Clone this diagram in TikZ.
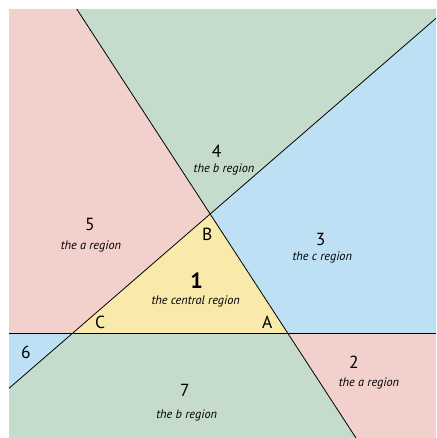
\documentclass[tikz,border=0pt]{standalone}
\usepackage{fontspec}
\setmainfont{PT Sans}

\definecolor{regpink}{RGB}{242,208,203}
\definecolor{reggreen}{RGB}{197,220,204}
\definecolor{regblue}{RGB}{189,224,245}
\definecolor{regyellow}{RGB}{249,233,170}

\begin{document}
\begin{tikzpicture}[x=1pt,y=-1pt,
  regnum/.style={font=\fontsize{17.5}{19}\selectfont},
  regcap/.style={font=\fontsize{12.3}{14}\selectfont\itshape},
  vertex/.style={font=\fontsize{17.5}{19}\selectfont}]

\useasboundingbox (0,0) rectangle (436,438);

% Frame and line ends
\coordinate (TL) at (9,9);
\coordinate (TR) at (436,9);
\coordinate (BR) at (436,438);
\coordinate (BL) at (9,438);
\coordinate (P) at (76.7,9);
\coordinate (Q) at (356,438);
\coordinate (R) at (436,18.3);
\coordinate (S) at (9,388.3);
\coordinate (H1) at (9,333);
\coordinate (H2) at (436,333);

% Triangle corners
\coordinate (B) at (intersection of P--Q and S--R);
\coordinate (A) at (intersection of P--Q and H1--H2);
\coordinate (C) at (intersection of S--R and H1--H2);

% Regions
\fill[regpink] (TL) -- (P) -- (B) -- (C) -- (H1) -- cycle;
\fill[reggreen] (P) -- (TR) -- (R) -- (B) -- cycle;
\fill[regblue] (B) -- (R) -- (H2) -- (A) -- cycle;
\fill[regyellow] (A) -- (B) -- (C) -- cycle;
\fill[regpink] (A) -- (H2) -- (BR) -- (Q) -- cycle;
\fill[reggreen] (C) -- (A) -- (Q) -- (BL) -- (S) -- cycle;
\fill[regblue] (H1) -- (C) -- (S) -- cycle;

% The three lines
\draw[line width=0.8pt] (P) -- (Q);
\draw[line width=0.8pt] (S) -- (R);
\draw[line width=0.8pt] (H1) -- (H2);

% Corner letters
\node[vertex] (labA) at (267.3,322.3) {A};
\node[vertex] (labB) at (207.3,234.3) {B};
\node[vertex] (labC) at (100,322.3) {C};

% Region labels
\node[regnum,font=\fontsize{22}{24}\selectfont\bfseries] (num1) at (196.7,281) {1};
\node[regcap] (cap1) at (195.7,301) {the central region};

\node[regnum] (num2) at (354,362.7) {2};
\node[regcap] (cap2) at (369,383) {the a region};

\node[regnum] (num3) at (320.7,239) {3};
\node[regcap] (cap3) at (322.3,257) {the c region};

\node[regnum] (num4) at (216.7,151.7) {4};
\node[regcap] (cap4) at (224,169) {the b region};

\node[regnum] (num5) at (90,224) {5};
\node[regcap] (cap5) at (91,246) {the a region};

\node[regnum] (num6) at (26,352.3) {6};

\node[regnum] (num7) at (185,390.7) {7};
\node[regcap] (cap7) at (186.7,415) {the b region};

\end{tikzpicture}
\end{document}
